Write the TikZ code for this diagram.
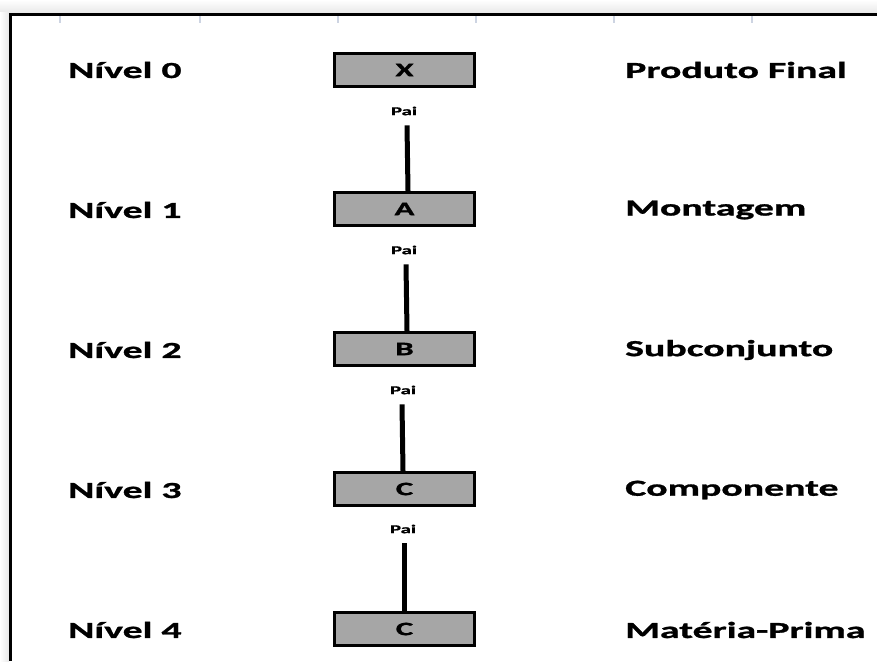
\documentclass[tikz,border=0pt]{standalone}
\usepackage{fontspec}
\setmainfont{Carlito}[FakeStretch=1.73, BoldFeatures={FakeBold=1.2}]
\begin{document}
\begin{tikzpicture}[x=1pt,y=-1pt,
  part/.style={draw=black, line width=3pt, fill=boxgray, minimum width=140pt,
    minimum height=33pt, inner sep=0pt, font=\fontsize{19}{19}\selectfont\bfseries},
  level/.style={anchor=west, inner sep=0pt, font=\fontsize{23}{23}\selectfont\bfseries},
  kind/.style={anchor=west, inner sep=0pt, font=\fontsize{23}{23}\selectfont\bfseries},
  parent/.style={inner sep=0pt, font=\fontsize{12}{12}\selectfont\bfseries},
  link/.style={line width=5pt},
  tick/.style={draw=tickblue, line width=2pt}
]
\definecolor{boxgray}{HTML}{A6A6A6}
\definecolor{tickblue}{HTML}{CDD4E2}
\useasboundingbox (0,0) rectangle (877,661);

% sheet background and frame shadow
\fill[white] (0,0) rectangle (877,661);
\shade[top color=white, bottom color=black!9] (0,0) rectangle (877,13);
\shade[left color=white, right color=black!9] (0,13) rectangle (9,661);

% column ticks along the top edge
\foreach \cx in {60,200,338,476,614,752}
  \draw[tick] (\cx,16) -- (\cx,23);

% frame
\draw[line width=3pt] (877,14.5) -- (10.5,14.5) -- (10.5,661);

% level labels
\node[level] (n0) at (68,70) {Nível 0};
\node[level] (n1) at (68,210) {Nível 1};
\node[level] (n2) at (68,350) {Nível 2};
\node[level] (n3) at (68,490) {Nível 3};
\node[level] (n4) at (68,630) {Nível 4};

% item boxes
\node[part] (x) at (404.5,70) {X};
\node[part] (a) at (404.5,209) {A};
\node[part] (b) at (404.5,349) {B};
\node[part] (c) at (404.5,489) {C};
\node[part] (c2) at (404.5,629) {C};

% parent marks
\node[parent] (p0) at (404,111) {Pai};
\node[parent] (p1) at (404,250) {Pai};
\node[parent] (p2) at (403,390) {Pai};
\node[parent] (p3) at (403,529) {Pai};

% links
\draw[link] ([xshift=3pt,yshift=-10pt]p0.south) -- ([xshift=3.5pt]a.north);
\draw[link] ([xshift=2pt,yshift=-10pt]p1.south) -- ([xshift=2.5pt]b.north);
\draw[link] ([xshift=-1pt,yshift=-10pt]p2.south) -- ([xshift=-1.5pt]c.north);
\draw[link] ([xshift=1pt,yshift=-10pt]p3.south) -- ([xshift=-0.5pt]c2.north);

% level descriptions
\node[kind] (k0) at (625,70) {Produto Final};
\node[kind] (k1) at (625,210) {Montagem};
\node[kind] (k2) at (625,350) {Subconjunto};
\node[kind] (k3) at (625,490) {Componente};
\node[kind] (k4) at (625,630) {Matéria-Prima};
\end{tikzpicture}
\end{document}
